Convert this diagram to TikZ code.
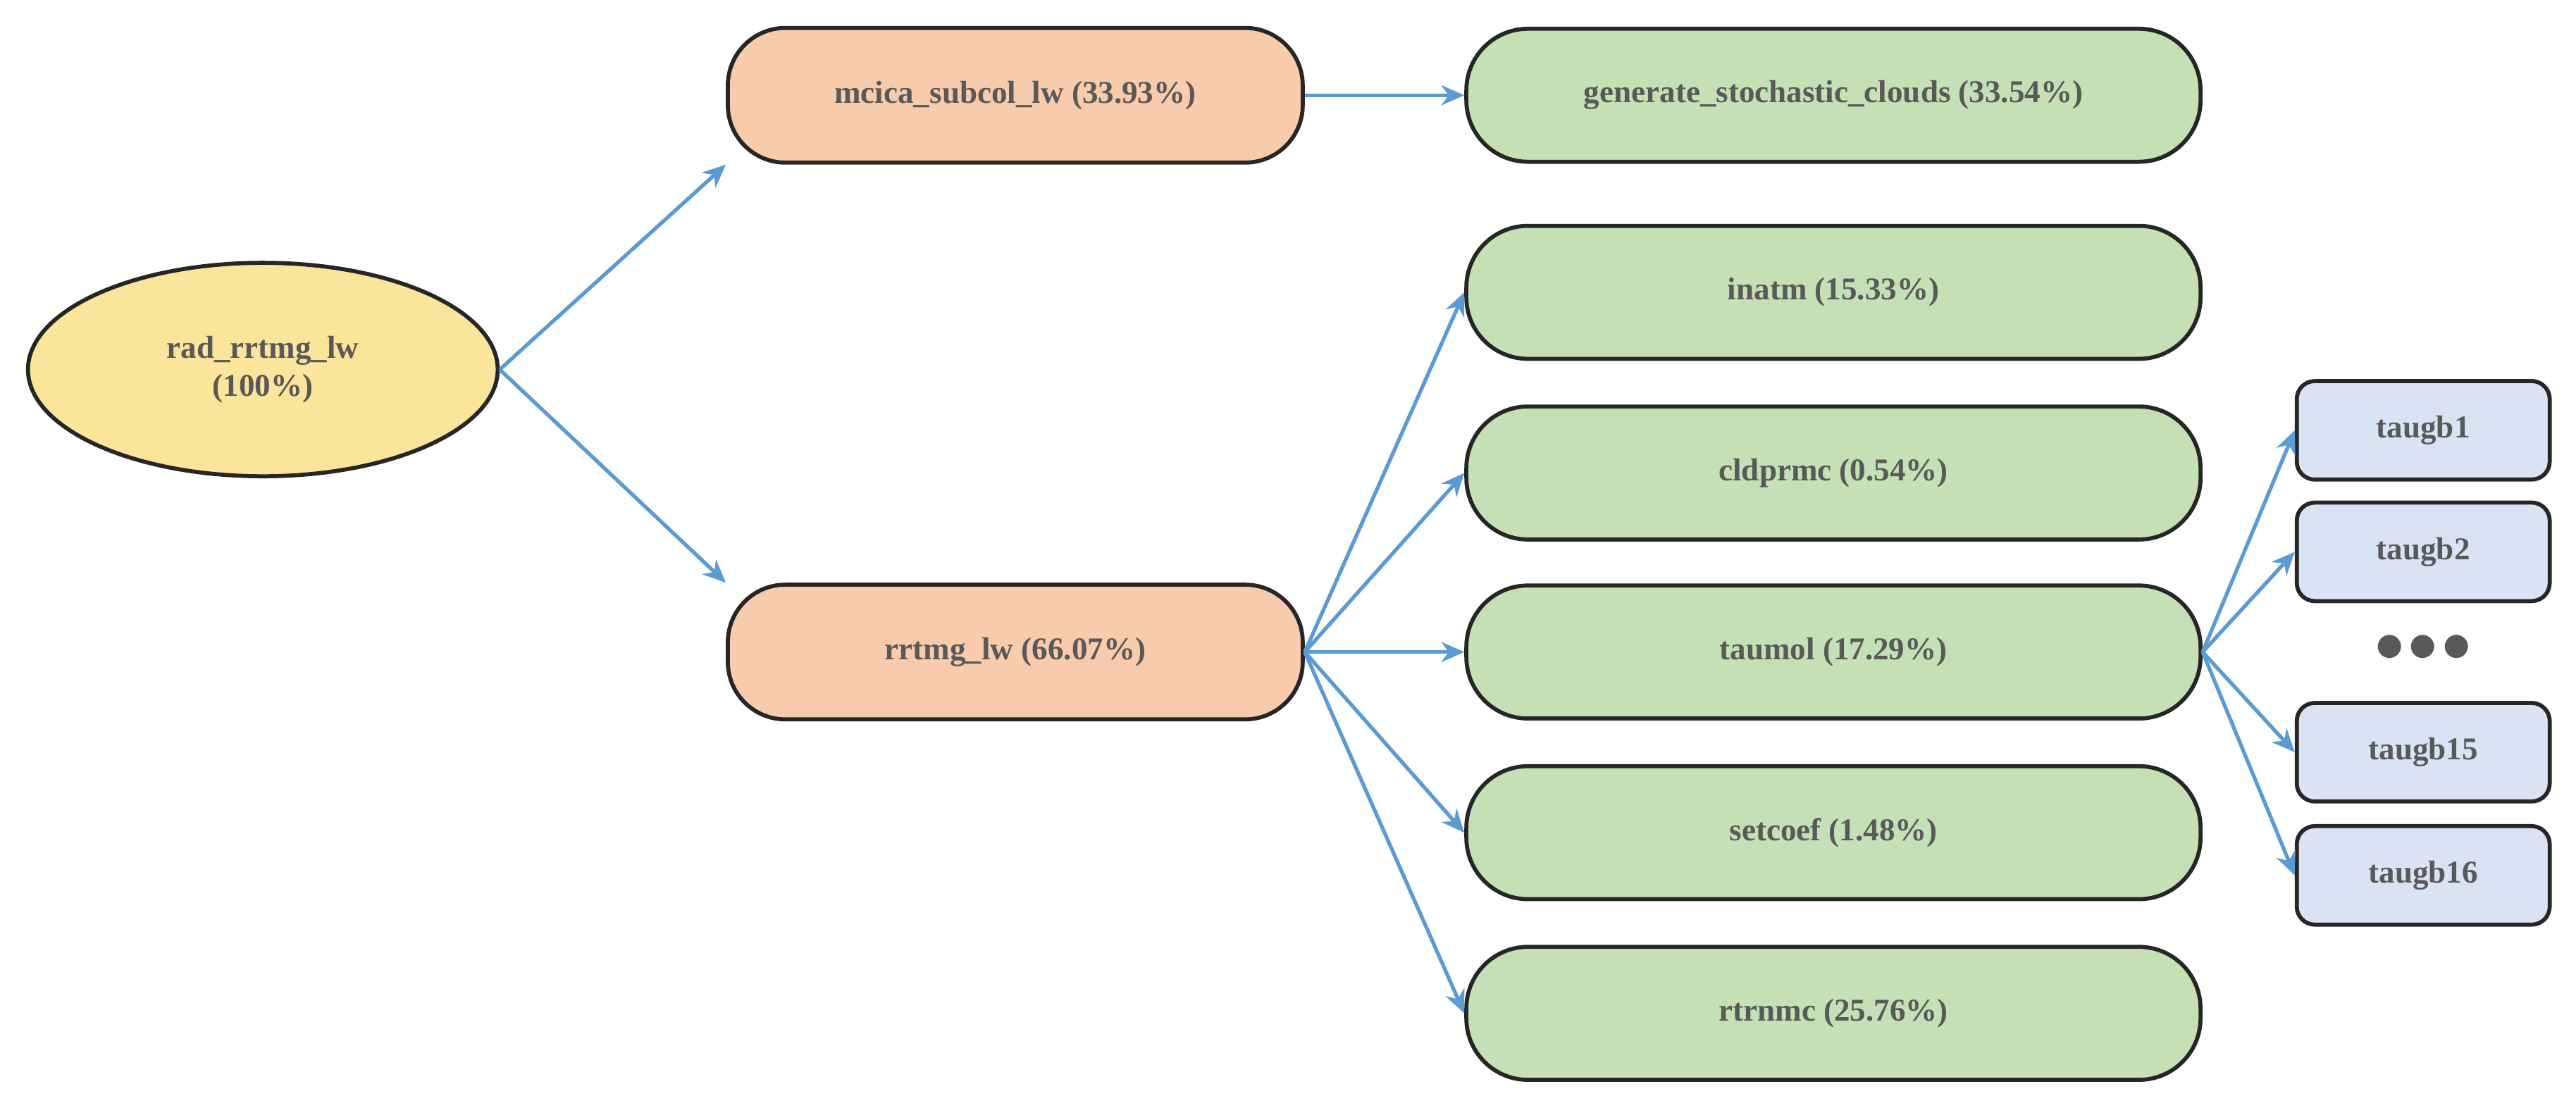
\documentclass[tikz,border=0pt]{standalone}
\usepackage{fontspec}
\setmainfont{Liberation Serif}
\usetikzlibrary{shapes.geometric,arrows.meta}
\definecolor{yel}{HTML}{FAE59A}
\definecolor{ora}{HTML}{F8CBAD}
\definecolor{gre}{HTML}{C5E0B4}
\definecolor{blu}{HTML}{DAE3F3}
\definecolor{arr}{HTML}{5B9BD5}
\definecolor{txt}{HTML}{595959}
\begin{document}
\begin{tikzpicture}[x=0.02cm,y=-0.02cm,
  base/.style={draw=black!85,line width=1.4pt,font=\fontsize{11}{13}\selectfont\bfseries,text=txt,align=center},
  orb/.style={base,fill=ora,rounded corners=0.7cm,minimum width=7cm,minimum height=1.64cm},
  grb/.style={base,fill=gre,rounded corners=0.75cm,minimum width=8.94cm,minimum height=1.62cm},
  tb/.style={base,fill=blu,rounded corners=0.22cm,minimum width=3.08cm,minimum height=1.2cm},
  ar/.style={draw=arr,line width=1.3pt,-{Stealth[length=8pt,width=7pt]}}]
\useasboundingbox (0,0) rectangle (1568,667);
\node[base,ellipse,fill=yel,minimum width=5.72cm,minimum height=2.6cm] (root) at (160,225) {rad\_rrtmg\_lw\\(100\%)};
\node[orb] (mc) at (618,58) {mcica\_subcol\_lw (33.93\%)};
\node[orb] (rr) at (618,397) {rrtmg\_lw (66.07\%)};
\node[grb] (gen) at (1116,58) {generate\_stochastic\_clouds (33.54\%)};
\node[grb] (in) at (1116,178) {inatm (15.33\%)};
\node[grb] (cl) at (1116,288) {cldprmc (0.54\%)};
\node[grb] (ta) at (1116,397) {taumol (17.29\%)};
\node[grb] (se) at (1116,507) {setcoef (1.48\%)};
\node[grb] (rt) at (1116,617) {rtrnmc (25.76\%)};
\node[tb] (t1) at (1475,262) {taugb1};
\node[tb] (t2) at (1475,336) {taugb2};
\node[text=txt,font=\fontsize{20}{20}\selectfont\bfseries] (dots) at (1475,395) {$\bullet\!\bullet\!\bullet$};
\node[tb] (t15) at (1475,458) {taugb15};
\node[tb] (t16) at (1475,533) {taugb16};
\coordinate (rp) at (root.east);
\draw[ar] (rp) -- (mc.south west);
\draw[ar] (rp) -- (rr.north west);
\draw[ar] (mc.east) -- (gen.west);
\coordinate (rre) at (rr.east);
\foreach \n in {in,cl,se,rt} \draw[ar] (rre) -- (\n.west);
\draw[ar] (rre) -- (ta.west);
\coordinate (tae) at (ta.east);
\foreach \n in {t1,t2,t15,t16} \draw[ar] (tae) -- (\n.west);
\end{tikzpicture}
\end{document}
